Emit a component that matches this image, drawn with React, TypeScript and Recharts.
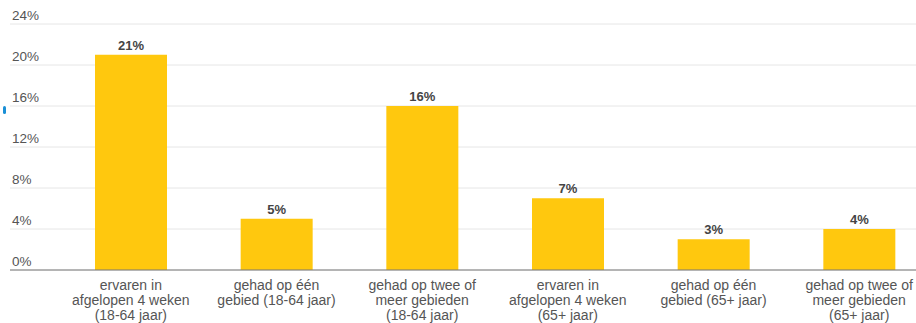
import React from 'react';
import { BarChart, Bar, XAxis, YAxis, CartesianGrid, LabelList } from 'recharts';

// category labels, already broken into lines as in the picture
const categories: string[][] = [
  ['ervaren in', 'afgelopen 4 weken', '(18-64 jaar)'],
  ['gehad op één', 'gebied (18-64 jaar)'],
  ['gehad op twee of', 'meer gebieden', '(18-64 jaar)'],
  ['ervaren in', 'afgelopen 4 weken', '(65+ jaar)'],
  ['gehad op één', 'gebied (65+ jaar)'],
  ['gehad op twee of', 'meer gebieden', '(65+ jaar)'],
];
const values = [21, 5, 16, 7, 3, 4];
const yTicks = [0, 4, 8, 12, 16, 20, 24];

const data = categories.map((lines, i) => ({
  name: lines.join(' '),
  value: values[i],
}));

const FONT = '"Liberation Sans", Arial, sans-serif';
const AXIS_Y = 270; // bottom of plot area (323 - 53)

const YTick = (props: any) => {
  const { y, payload } = props;
  return (
    <text x={12} y={y - 4} fontSize={13.5} fill="#555" fontFamily={FONT}>
      {payload.value}%
    </text>
  );
};

const XTick = (props: any) => {
  const { x, index } = props;
  const lines = categories[index] || [];
  return (
    <g>
      {lines.map((l, i) => (
        <text
          key={i}
          x={x}
          y={AXIS_Y + 20 + i * 15}
          textAnchor="middle"
          fontSize={14}
          fill="#555"
          fontFamily={FONT}
        >
          {l}
        </text>
      ))}
    </g>
  );
};

export default function App() {
  return (
    <div
      style={{
        position: 'absolute',
        left: 0,
        top: 0,
        width: 916,
        height: 323,
        overflow: 'hidden',
        background: '#fff',
      }}
    >
      <div
        style={{
          position: 'absolute',
          left: 3,
          top: 106,
          width: 3,
          height: 8,
          borderRadius: 2,
          background: '#1a8fd6',
        }}
      />
      <BarChart
        width={932}
        height={323}
        data={data}
        margin={{ top: 24, right: 0, bottom: 0, left: 9 }}
      >
        <CartesianGrid vertical={false} stroke="#e6e6e6" />
        <YAxis
          domain={[0, 24]}
          ticks={yTicks}
          width={1}
          axisLine={false}
          tickLine={false}
          tick={<YTick />}
          interval={0}
        />
        <XAxis
          dataKey="name"
          height={53}
          padding={{ left: 48, right: 0 }}
          tickLine={false}
          axisLine={{ stroke: '#777' }}
          tick={<XTick />}
          interval={0}
        />
        <Bar dataKey="value" fill="#FFC80E" barSize={72} isAnimationActive={false}>
          <LabelList
            dataKey="value"
            position="top"
            offset={5}
            formatter={(v: any) => `${v}%`}
            style={{ fontSize: 13, fontWeight: 'bold', fill: '#444', fontFamily: FONT }}
          />
        </Bar>
      </BarChart>
    </div>
  );
}
